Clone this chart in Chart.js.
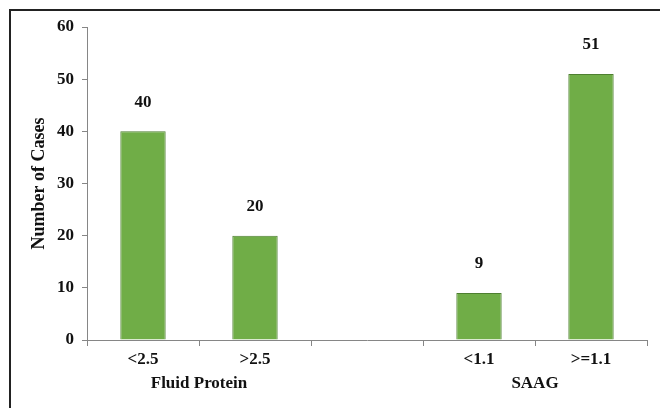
<!DOCTYPE html>
<html>
<head>
<meta charset="utf-8">
<script src="https://cdn.jsdelivr.net/npm/chart.js@4"></script>
<style>
  html, body { margin: 0; padding: 0; background: #fff; }
  #wrap { position: relative; width: 660px; height: 408px; overflow: hidden; }
  #frame { position: absolute; left: 9px; top: 9px; width: 700px; height: 450px;
           border-left: 2px solid #222; border-top: 2px solid #222; }
  canvas { position: absolute; left: 0; top: 0; }
</style>
</head>
<body>
<div id="wrap">
  <div id="frame"></div>
  <canvas id="chart" width="660" height="408"></canvas>
</div>
<script>
const categories = ['<2.5', '>2.5', '', '<1.1', '>=1.1'];
const cases = [40, 20, null, 9, 51];
const groups = ['Fluid Protein', 'SAAG'];
const groupRanges = [[0, 1], [3, 4]];
const yTicks = [0, 10, 20, 30, 40, 50, 60];

const FONT = "'Liberation Serif', serif";

// values above bars
const valueLabels = {
    id: 'valueLabels',
    afterDatasetsDraw(chart) {
        const ctx = chart.ctx;
        const meta = chart.getDatasetMeta(0);
        ctx.save();
        ctx.font = 'bold 17px ' + FONT;
        ctx.fillStyle = '#111';
        ctx.textAlign = 'center';
        ctx.textBaseline = 'middle';
        meta.data.forEach((bar, i) => {
            if (cases[i] == null) return;
            ctx.fillText(cases[i], bar.x, bar.y - 29);
        });
        ctx.restore();
    }
};

// group names under the category labels
const groupLabels = {
    id: 'groupLabels',
    afterDraw(chart) {
        const ctx = chart.ctx;
        const x = chart.scales.x;
        ctx.save();
        ctx.font = 'bold 17px ' + FONT;
        ctx.fillStyle = '#111';
        ctx.textAlign = 'center';
        ctx.textBaseline = 'middle';
        groups.forEach((g, i) => {
            const r = groupRanges[i];
            const cx = (x.getPixelForValue(r[0]) + x.getPixelForValue(r[1])) / 2;
            ctx.fillText(g, cx, chart.chartArea.bottom + 44);
        });
        ctx.restore();
    }
};

new Chart(document.getElementById('chart'), {
    type: 'bar',
    data: {
        labels: categories,
        datasets: [{
            data: cases,
            backgroundColor: '#70AD47',
            borderColor: '#4E7F30',
            borderWidth: 1,
            categoryPercentage: 1,
            barPercentage: 0.405
        }]
    },
    options: {
        responsive: false,
        animation: false,
        layout: { padding: { top: 27, right: 13, left: 0, bottom: 0 } },
        plugins: { legend: { display: false }, tooltip: { enabled: false } },
        scales: {
            x: {
                grid: { offset: true, drawOnChartArea: false, color: '#868686', tickLength: 6 },
                border: { color: '#868686' },
                ticks: { color: '#111', font: { family: FONT, size: 17, weight: 'bold' }, padding: 3 },
                afterFit(scale) { scale.height = 68; }
            },
            y: {
                min: 0,
                max: 60,
                afterBuildTicks(scale) { scale.ticks = yTicks.map(v => ({ value: v })); },
                grid: { drawOnChartArea: false, color: '#868686', tickLength: 5 },
                border: { color: '#868686' },
                ticks: { color: '#111', font: { family: FONT, size: 17, weight: 'bold' }, padding: 8 },
                title: {
                    display: true,
                    text: 'Number of Cases',
                    color: '#111',
                    font: { family: FONT, size: 18, weight: 'bold' },
                    padding: { top: 29, bottom: 0 }
                },
                afterFit(scale) { scale.width = 87; }
            }
        }
    },
    plugins: [valueLabels, groupLabels]
});
</script>
</body>
</html>
